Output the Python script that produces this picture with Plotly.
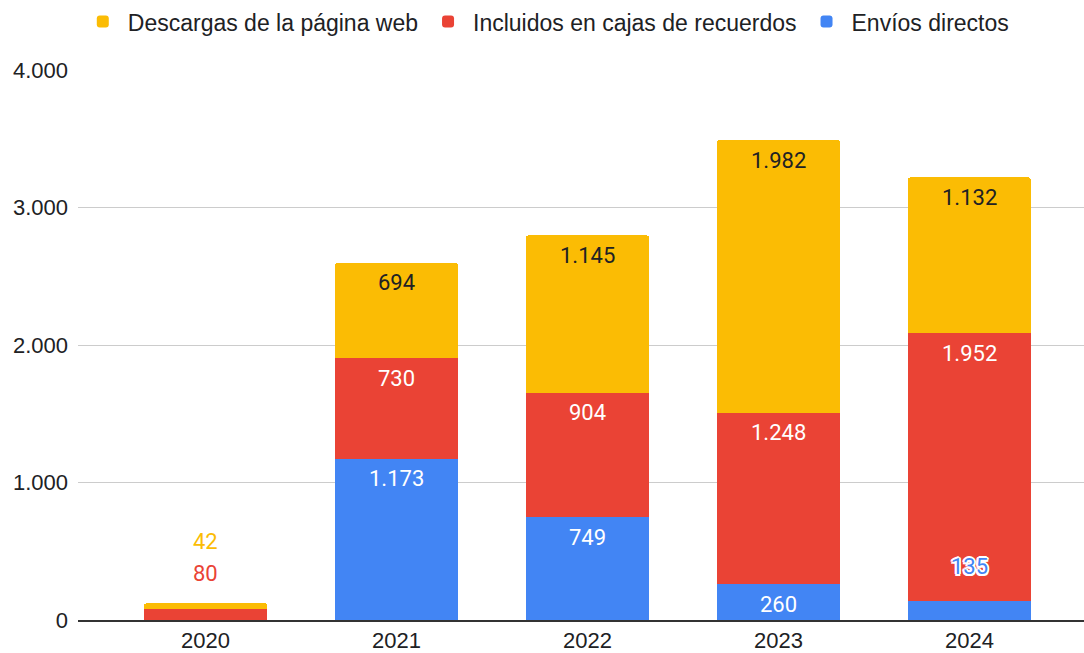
import plotly.graph_objects as go

years = ["2020", "2021", "2022", "2023", "2024"]
envios = [0, 1173, 749, 260, 135]
incluidos = [80, 730, 904, 1248, 1952]
descargas = [42, 694, 1145, 1982, 1132]

names = ["Envíos directos", "Incluidos en cajas de recuerdos", "Descargas de la página web"]
colors = ["#4285F4", "#EA4335", "#FBBC04"]
series = [envios, incluidos, descargas]
label_colors = ["#FFFFFF", "#FFFFFF", "#202124"]

FONT = "Liberation Sans, Arial, sans-serif"
LFONT = "Roboto, Liberation Sans, sans-serif"
LSIZE = 22
HALO = ("2px 0 0 #fff, -2px 0 0 #fff, 0 2px 0 #fff, 0 -2px 0 #fff, "
        "1.5px 1.5px 0 #fff, -1.5px -1.5px 0 #fff, 1.5px -1.5px 0 #fff, -1.5px 1.5px 0 #fff")


def fmt(v):
    return f"{v:,}".replace(",", ".")


fig = go.Figure()
for name, color, vals in zip(names, colors, series):
    fig.add_trace(go.Bar(
        x=years, y=vals, name=name, marker=dict(color=color, line=dict(width=0)),
        width=0.644, hoverinfo="skip",
    ))

annotations = []
cum = [0] * len(years)
for si, vals in enumerate(series):
    for i, v in enumerate(vals):
        cum[i] += v
    for i, v in enumerate(vals):
        if v == 0:
            continue
        top = cum[i]
        total = sum(s[i] for s in series)
        if i == 0:
            shift = 30 if si == 1 else 62
            annotations.append(dict(
                x=i, y=total, xref="x", yref="y", text=fmt(v),
                showarrow=False, yshift=shift, yanchor="middle",
                font=dict(family=LFONT, size=LSIZE, color=colors[si]),
            ))
        elif v * 0.1375 < 30:
            annotations.append(dict(
                x=i, y=top, xref="x", yref="y", text=fmt(v),
                showarrow=False, yshift=35, yanchor="middle",
                font=dict(family=LFONT, size=LSIZE, color=colors[si], shadow=HALO),
            ))
        else:
            annotations.append(dict(
                x=i, y=top, xref="x", yref="y", text=fmt(v),
                showarrow=False, yshift=-20, yanchor="middle",
                font=dict(family=LFONT, size=LSIZE, color=label_colors[si]),
            ))

fig.update_layout(
    width=1084, height=653,
    barmode="stack",
    barcornerradius=3,
    plot_bgcolor="white", paper_bgcolor="white",
    margin=dict(l=78, r=0, t=70, b=33),
    font=dict(family=FONT, size=22, color="#202124"),
    showlegend=True,
    legend=dict(
        orientation="h", traceorder="reversed",
        x=0.465, xanchor="center", y=1.088, yanchor="middle",
        itemwidth=40,
        font=dict(family=FONT, size=23, color="#202124"),
    ),
    xaxis=dict(
        type="category",
        range=[-0.668, 4.6], showgrid=False, showline=True,
        linecolor="#333333", linewidth=1.5,
        ticks="", tickfont=dict(family=FONT, size=22, color="#202124"),
        fixedrange=True,
    ),
    yaxis=dict(
        range=[0, 4000], tickvals=[0, 1000, 2000, 3000, 4000],
        ticktext=[fmt(t) for t in [0, 1000, 2000, 3000, 4000]],
        gridcolor="#CCCCCC", gridwidth=1, zeroline=False,
        showline=False, ticks="", ticklabelstandoff=9,
        tickfont=dict(family=FONT, size=22, color="#202124"),
        fixedrange=True,
    ),
)
for a in annotations:
    fig.add_annotation(**a)

fig.write_html("out.html", config={"displayModeBar": False})
with open("out.html", encoding="utf-8") as f:
    html = f.read()
html = html.replace("<head>", "<head><style>html,body{margin:0;padding:0;}</style>", 1)
with open("out.html", "w", encoding="utf-8") as f:
    f.write(html)
